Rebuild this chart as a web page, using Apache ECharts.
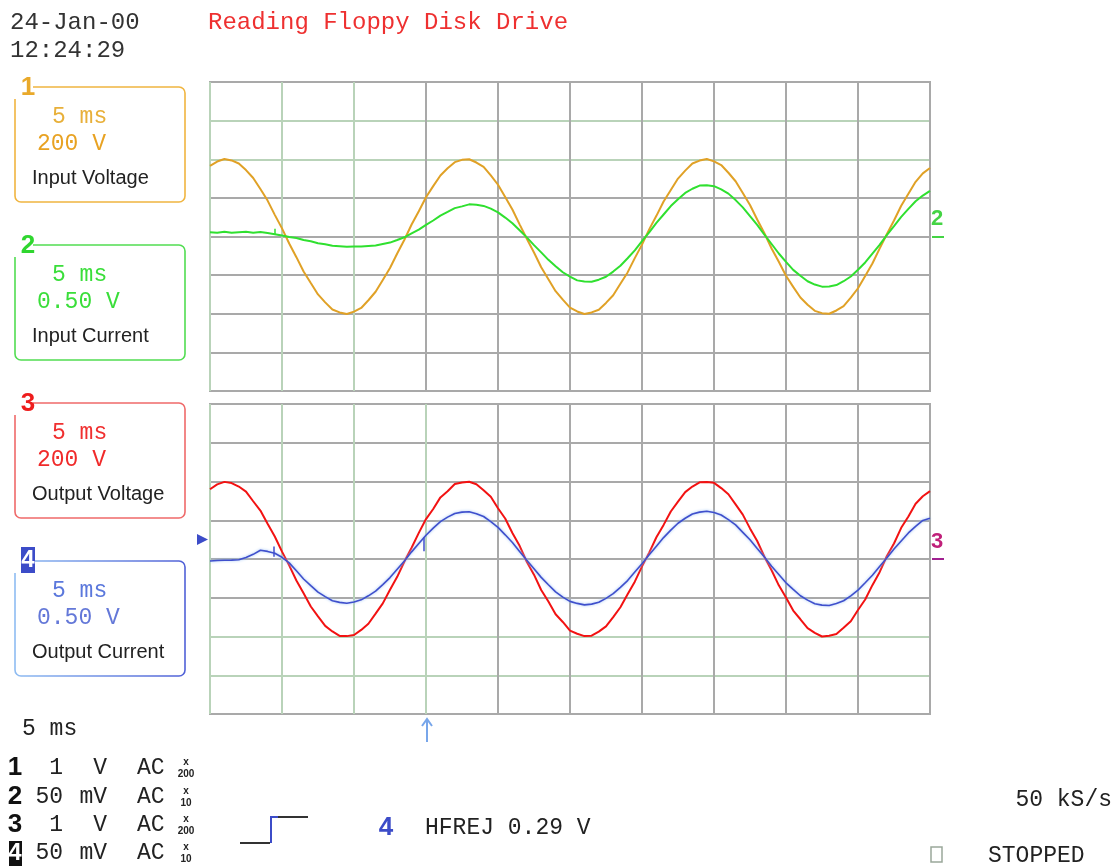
<!DOCTYPE html>
<html><head><meta charset="utf-8">
<script src="https://cdn.jsdelivr.net/npm/echarts@6/dist/echarts.min.js"></script>
<style>html,body{margin:0;padding:0;background:#fff}#c{width:1120px;height:867px}</style>
</head><body><div id="c"></div>
<script>
// time in ms (5 ms / div, 10 div)
const timeMs = [0,0.5,1,1.5,2,2.5,3,3.5,4,4.5,5,5.5,6,6.5,7,7.5,8,8.5,9,9.5,10,10.5,11,11.5,12,12.5,13,13.5,14,14.5,15,15.5,16,16.5,17,17.5,18,18.5,19,19.5,20,20.5,21,21.5,22,22.5,23,23.5,24,24.5,25,25.5,26,26.5,27,27.5,28,28.5,29,29.5,30,30.5,31,31.5,32,32.5,33,33.5,34,34.5,35,35.5,36,36.5,37,37.5,38,38.5,39,39.5,40,40.5,41,41.5,42,42.5,43,43.5,44,44.5,45,45.5,46,46.5,47,47.5,48,48.5,49,49.5,50];
// channel 1: input voltage (V), 200 V/div
const inputVoltage = [366,388,401,394,378,344,303,246,186,112,42,-36,-107,-181,-241,-300,-341,-378,-393,-401,-389,-370,-330,-286,-225,-163,-88,-17,62,131,203,261,316,353,385,397,400,383,360,316,268,204,140,63,-12,-83,-159,-221,-283,-327,-368,-388,-401,-393,-379,-344,-304,-245,-186,-112,-42,37,107,181,241,300,341,378,393,401,389,370,330,286,225,163,88,17,-62,-131,-203,-261,-316,-353,-385,-397,-400,-383,-360,-316,-268,-204,-140,-63,12,83,159,221,283,327,355];
// channel 2: input current (V), 0.50 V/div
const inputCurrent = [0.055,0.05,0.062,0.048,0.056,0.06,0.05,0.057,0.045,0.03,0.012,-0.006,-0.02,-0.045,-0.062,-0.087,-0.1,-0.12,-0.126,-0.133,-0.13,-0.131,-0.122,-0.116,-0.097,-0.079,-0.045,-0.01,0.04,0.09,0.151,0.207,0.27,0.318,0.367,0.39,0.416,0.412,0.396,0.36,0.312,0.245,0.171,0.08,-0.011,-0.112,-0.206,-0.302,-0.385,-0.463,-0.52,-0.568,-0.583,-0.586,-0.559,-0.521,-0.454,-0.379,-0.281,-0.179,-0.061,0.054,0.176,0.285,0.394,0.483,0.564,0.618,0.659,0.663,0.652,0.61,0.555,0.471,0.377,0.264,0.15,0.023,-0.097,-0.22,-0.328,-0.432,-0.509,-0.579,-0.622,-0.649,-0.646,-0.628,-0.579,-0.518,-0.431,-0.336,-0.222,-0.108,0.018,0.135,0.254,0.357,0.456,0.53,0.59];
// channel 3: output voltage (V), 200 V/div
const outputVoltage = [360,385,398,392,374,348,298,250,182,116,38,-33,-111,-177,-245,-296,-345,-374,-397,-398,-392,-366,-334,-282,-229,-159,-92,-13,58,135,206,258,318,350,387,395,399,386,355,321,262,209,134,68,-14,-81,-160,-219,-285,-325,-370,-386,-398,-396,-375,-348,-300,-249,-182,-117,-38,33,112,176,245,296,345,374,396,398,393,366,334,282,229,158,93,12,-58,-136,-199,-266,-311,-357,-381,-400,-396,-387,-355,-321,-263,-209,-135,-68,14,80,161,219,285,324,350];
// channel 4: output current (V), 0.50 V/div
const outputCurrent = [-0.025,-0.02,-0.017,-0.014,-0.01,0.02,0.06,0.112,0.098,0.075,0.022,-0.05,-0.152,-0.258,-0.344,-0.428,-0.486,-0.538,-0.56,-0.572,-0.555,-0.527,-0.475,-0.415,-0.33,-0.24,-0.132,-0.025,0.092,0.2,0.307,0.398,0.482,0.54,0.587,0.605,0.61,0.585,0.548,0.483,0.408,0.312,0.213,0.098,-0.017,-0.125,-0.237,-0.332,-0.424,-0.492,-0.547,-0.573,-0.592,-0.582,-0.559,-0.508,-0.447,-0.366,-0.278,-0.169,-0.062,0.055,0.165,0.276,0.372,0.461,0.526,0.58,0.605,0.617,0.599,0.568,0.509,0.44,0.344,0.248,0.135,0.025,-0.093,-0.2,-0.307,-0.392,-0.474,-0.531,-0.578,-0.595,-0.6,-0.575,-0.539,-0.475,-0.402,-0.307,-0.209,-0.096,0.013,0.129,0.233,0.336,0.42,0.497,0.525];
// short spikes: [time ms, low, high]
const inputCurrentSpikes = [[4.5, 0.03, 0.1]];
const outputCurrentSpikes = [[4.45, 0.03, 0.16], [14.86, 0.1, 0.28]];

const channelBoxes = [
  {num:'1', time:'5 ms', scale:'200 V', name:'Input Voltage'},
  {num:'2', time:'5 ms', scale:'0.50 V', name:'Input Current'},
  {num:'3', time:'5 ms', scale:'200 V', name:'Output Voltage'},
  {num:'4', time:'5 ms', scale:'0.50 V', name:'Output Current'}
];
const setupRows = [
  {num:'1', value:'1', unit:'V', coupling:'AC', probe:'200'},
  {num:'2', value:'50', unit:'mV', coupling:'AC', probe:'10'},
  {num:'3', value:'1', unit:'V', coupling:'AC', probe:'200'},
  {num:'4', value:'50', unit:'mV', coupling:'AC', probe:'10'}
];
const headerDate = '24-Jan-00';
const headerTime = '12:24:29';
const title = 'Reading Floppy Disk Drive';
const timebase = '5 ms';
const triggerText = 'HFREJ 0.29 V';
const sampleRate = '50 kS/s';
const runState = 'STOPPED';

const MONO = "'Liberation Mono', 'DejaVu Sans Mono', monospace";
const SANS = "'Liberation Sans', Arial, sans-serif";
const NARROW = "'Liberation Sans Narrow', 'Liberation Sans', sans-serif";

function pairs(vals){ return timeMs.map((t,i)=>[t, vals[i]]); }
function spikeLines(sp){ return sp.map(s=>[{coord:[s[0], s[1]]},{coord:[s[0], s[2]]}]); }
function txt(x,y,text,font,fill,align){
  return {type:'text', x:x, y:y, z:20, silent:true,
    style:{text:text, font:font, fill:fill, align:align||'left', textAlign:align||'left', verticalAlign:'middle', textVerticalAlign:'middle'}};
}
function rect(x,y,w,h,style,r){ return {type:'rect', z:15, silent:true, shape:{x:x,y:y,width:w,height:h,r:r||0}, style:style}; }
function line(points,stroke,w){ return {type:'polyline', z:16, silent:true, shape:{points:points}, style:{stroke:stroke, lineWidth:w||2, fill:null}}; }

const G = '#b9d3b9', Y = '#a9a9a9';
const boxTop = [87, 245, 403, 561];
const boxH = 115;
const boxStroke = [
  '#f0b540', '#52dd52', '#ef6a6a',
  new echarts.graphic.LinearGradient(0,0,1,0,[{offset:0,color:'#8fbdf2'},{offset:1,color:'#4f5fd6'}])
];
const numColor = ['#e9a92a','#2fd62f','#ee1c1c','#3c4cc8'];
const timeColor = ['#e8b03a','#3ade3a','#f03030','#5b78dc'];
const scaleColor = ['#e8a222','#3ade3a','#f02a2a','#6478d8'];

const graphics = [];
graphics.push(txt(10, 23, headerDate, '24px ' + MONO, '#333'));
graphics.push(txt(10, 51, headerTime, '24px ' + MONO, '#333'));
graphics.push(txt(208, 23, title, '24px ' + MONO, '#ee3030'));

channelBoxes.forEach((b,i)=>{
  const top = boxTop[i];
  graphics.push(rect(15, top, 170, boxH, {fill:'none', stroke:boxStroke[i], lineWidth:1.6}, 6));
  graphics.push(rect(12, top-10, 21, 22, {fill:'#fff'}));
  if (b.num === '4') {
    graphics.push(rect(21, top-14, 14, 26, {fill:'#3c4cc8'}));
    graphics.push(txt(28, top-1, '4', 'bold 24px ' + NARROW, '#fff', 'center'));
  } else {
    graphics.push(txt(28, top+1, b.num, 'bold 26px ' + NARROW, numColor[i], 'center'));
  }
  graphics.push(txt(52, top+30, b.time, '23px ' + MONO, timeColor[i]));
  graphics.push(txt(37, top+57, b.scale, '23px ' + MONO, scaleColor[i]));
  graphics.push(txt(32, top+91, b.name, '20px ' + SANS, '#222'));
});

graphics.push(txt(22, 729, timebase, '23px ' + MONO, '#222'));
const rowY = [768, 797, 825, 853];
setupRows.forEach((r,i)=>{
  const y = rowY[i];
  if (r.num === '4') {
    graphics.push(rect(9, y-12, 13, 25, {fill:'#111'}));
    graphics.push(txt(15, y, '4', 'bold 24px ' + NARROW, '#fff', 'center'));
  } else {
    graphics.push(txt(15, y, r.num, 'bold 26px ' + NARROW, '#111', 'center'));
  }
  graphics.push(txt(63, y, r.value, '23px ' + MONO, '#222', 'right'));
  graphics.push(txt(107, y, r.unit, '23px ' + MONO, '#222', 'right'));
  graphics.push(txt(137, y, r.coupling, '23px ' + MONO, '#222'));
  graphics.push(txt(186, y-6, 'x', 'bold 10px ' + SANS, '#222', 'center'));
  graphics.push(txt(186, y+6, r.probe, 'bold 10px ' + NARROW, '#222', 'center'));
});

// trigger slope icon
graphics.push(line([[240,843],[270,843]], '#333', 2));
graphics.push(line([[271,843],[271,817],[278,817]], '#3c4cc8', 2));
graphics.push(line([[278,817],[308,817]], '#333', 2));
graphics.push(txt(386, 828, '4', 'bold 26px ' + NARROW, '#3c4cc8', 'center'));
graphics.push(txt(425, 828, triggerText, '23px ' + MONO, '#222'));
graphics.push(txt(1112, 800, sampleRate, '23px ' + MONO, '#222', 'right'));
graphics.push(txt(988, 856, runState, '23px ' + MONO, '#222'));
graphics.push(rect(931, 847, 11, 15, {fill:'none', stroke:'#9aa89a', lineWidth:1.5}));

// trigger position arrow (below lower grid)
graphics.push(line([[427,742],[427,719]], '#78a6ea', 2));
graphics.push(line([[422,726],[427,719],[432,726]], '#78a6ea', 2));
// channel 4 offset marker (left)
graphics.push({type:'polygon', z:16, silent:true, shape:{points:[[197,534],[208,539.5],[197,545]]}, style:{fill:'#3c4cc8'}});
// right side ground markers
graphics.push(txt(937, 219, '2', 'bold 22px ' + NARROW, '#44d444', 'center'));
graphics.push(line([[932,237],[944,237]], '#44d444', 2));
graphics.push(txt(937, 542, '3', 'bold 22px ' + NARROW, '#c0207a', 'center'));
graphics.push(line([[932,559],[944,559]], '#a02090', 2));

function xAx(gi, colors){
  return {gridIndex:gi, type:'value', min:0, max:50, interval:5,
    axisLine:{show:false}, axisTick:{show:false}, axisLabel:{show:false},
    splitLine:{show:true, showMinLine:true, showMaxLine:true, lineStyle:{color:colors, width:2}}};
}
function yAx(gi, mn, mx, iv, colors){
  return {gridIndex:gi, type:'value', min:mn, max:mx, interval:iv,
    axisLine:{show:false}, axisTick:{show:false}, axisLabel:{show:false},
    splitLine:colors ? {show:true, showMinLine:true, showMaxLine:true, lineStyle:{color:colors, width:2}} : {show:false}};
}

const option = {
  animation:false,
  backgroundColor:'#fff',
  grid:[
    {left:210, top:82, width:720, height:309, show:true, borderColor:Y, borderWidth:2},
    {left:210, top:404, width:720, height:310, show:true, borderColor:Y, borderWidth:2}
  ],
  xAxis:[ xAx(0,[G,G,G,Y,Y,Y,Y,Y,Y,Y,Y]), xAx(1,[G,G,G,G,Y,Y,Y,Y,Y,Y,Y]) ],
  yAxis:[
    yAx(0,-800,800,200,[Y,Y,Y,Y,Y,Y,G,G,Y]),
    yAx(0,-2,2,0.5,null),
    yAx(1,-800,800,200,[Y,G,G,Y,Y,Y,Y,Y,Y]),
    yAx(1,-2,2,0.5,null)
  ],
  series:[
    {name:'Input Voltage', type:'line', xAxisIndex:0, yAxisIndex:0, data:pairs(inputVoltage), symbol:'none', z:3,
      lineStyle:{color:'#e0a126', width:2}},
    {name:'Input Current', type:'line', xAxisIndex:0, yAxisIndex:1, data:pairs(inputCurrent), symbol:'none', z:4,
      lineStyle:{color:'#2fe02f', width:2},
      markLine:{silent:true, symbol:'none', label:{show:false}, lineStyle:{color:'#2fe02f', width:1.5, type:'solid'}, data:spikeLines(inputCurrentSpikes)}},
    {name:'Output Voltage', type:'line', xAxisIndex:1, yAxisIndex:2, data:pairs(outputVoltage), symbol:'none', z:3,
      lineStyle:{color:'#f21212', width:2}},
    {name:'Output Current', type:'line', xAxisIndex:1, yAxisIndex:3, data:pairs(outputCurrent), symbol:'none', z:4,
      lineStyle:{color:'#3f4fcc', width:1.6, shadowColor:'#9cc2f4', shadowBlur:3},
      markLine:{silent:true, symbol:'none', label:{show:false}, lineStyle:{color:'#3f4fcc', width:1.5, type:'solid'}, data:spikeLines(outputCurrentSpikes)}}
  ],
  graphic:{elements:graphics}
};
const chart = echarts.init(document.getElementById('c'), null, {renderer:'canvas'});
chart.setOption(option);
</script></body></html>
